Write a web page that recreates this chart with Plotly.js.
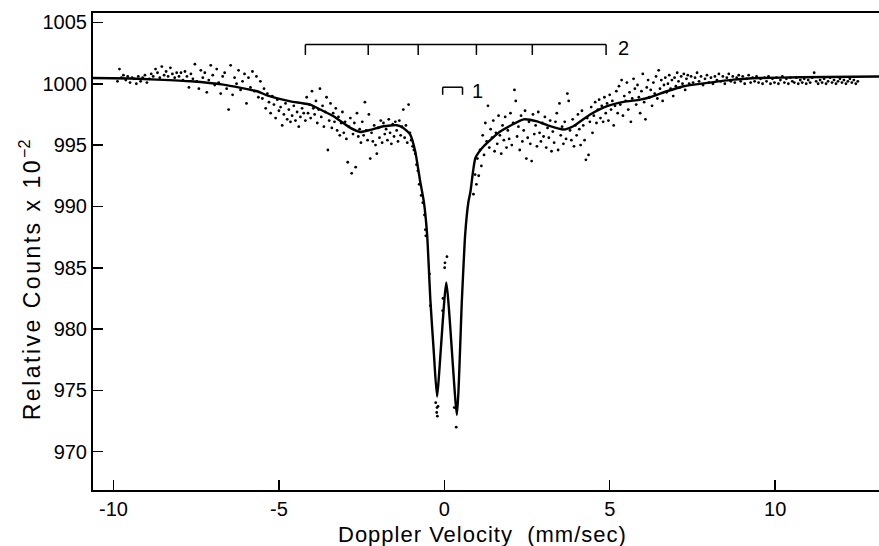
<!DOCTYPE html>
<html>
<head>
<meta charset="utf-8">
<script src="https://cdn.plot.ly/plotly-3.0.1.min.js"></script>
<style>html,body{margin:0;padding:0;background:#fff;}#chart{width:879px;height:546px;}</style>
</head>
<body>
<div id="chart"></div>
<script>
// ---- measured points (Doppler velocity mm/sec, relative counts x 10^-2) ----
const dotsXA = [-9.88,-9.82,-9.76,-9.7,-9.63,-9.57,-9.5,-9.44,-9.38,-9.31,-9.25,-9.18,-9.12,-9.05,-8.99,-8.92,-8.86,-8.8,-8.73,-8.67,-8.6,-8.54,-8.47,-8.41,-8.35,-8.28,-8.22,-8.15,-8.09,-8.02];
const dotsYA = [1000.2,1001.2,1000.5,1000.7,1000.3,1000.6,1000.1,1000.5,1000.4,1000.0,1000.6,1000.2,1000.5,1000.7,1000.1,1000.4,1000.8,1000.6,1001.2,1000.9,1000.5,1001.4,1000.7,1001.0,1000.6,1001.3,1000.8,1000.5,1000.9,1000.6];

const dotsXB = [-7.96,-7.9,-7.84,-7.78,-7.72,-7.66,-7.6,-7.54,-7.48,-7.42,-7.36,-7.3,-7.24,-7.18,-7.12,-7.06,-7.0,-6.94,-6.88,-6.82,-6.76,-6.7,-6.64,-6.58,-6.52,-6.46,-6.4,-6.34,-6.28,-6.22,-6.16,-6.1,-6.04,-5.98,-5.92,-5.86,-5.8,-5.74,-5.68,-5.62,-5.56];
const dotsYB = [1000.9,1000.3,1001.0,1000.6,999.7,1000.8,1000.4,1001.6,1000.2,999.6,1001.1,1000.5,1000.9,999.3,1000.3,1001.5,1000.7,999.9,1001.2,1000.1,999.2,1000.6,1000.9,999.6,997.9,1001.5,999.1,1000.5,1000.0,1001.1,999.5,1000.2,1000.8,998.4,1000.5,999.7,1001.0,999.4,1000.6,998.9,1000.2];

const dotsXC = [-5.5,-5.45,-5.4,-5.35,-5.3,-5.25,-5.2,-5.15,-5.1,-5.05,-5.0,-4.95,-4.9,-4.85,-4.8,-4.75,-4.7,-4.65,-4.6,-4.55,-4.5,-4.45,-4.4,-4.35,-4.3,-4.25,-4.2];
const dotsYC = [998.8,999.6,998.0,999.2,998.5,997.6,999.0,998.3,997.2,998.7,997.8,998.1,996.6,997.5,998.4,997.1,997.9,996.9,997.4,998.2,997.0,997.7,996.5,997.3,998.0,997.6,997.0];

const dotsXD = [-4.16,-4.12,-4.08,-4.04,-4.0,-3.96,-3.92,-3.88,-3.84,-3.8,
-3.76,-3.72,-3.68,-3.64,-3.6,-3.56,-3.52,-3.48,-3.44,-3.4,
-3.36,-3.32,-3.28,-3.24,-3.2,-3.16,-3.12,-3.08,-3.04,-3.0,
-2.96,-2.92,-2.88,-2.84,-2.8,-2.76,-2.72,-2.68,-2.64,-2.6,
-2.56,-2.52,-2.48,-2.44,-2.4,-2.36,-2.32,-2.28,-2.24,-2.2,
-2.16,-2.12,-2.08,-2.04,-2.0,-1.96,-1.92,-1.88,-1.84,-1.8,
-1.76,-1.72,-1.68,-1.64,-1.6,-1.56,-1.52,-1.48,-1.44,-1.4,
-1.36,-1.32,-1.28,-1.24,-1.2,-1.16,-1.12,-1.08,-1.04,-1.0,
-0.96,-0.92,-0.88,-0.84];
const dotsYD = [998.9,997.6,998.3,997.2,999.4,998.0,997.5,998.6,996.8,997.9,
999.6,997.3,998.2,996.5,997.7,998.9,994.6,997.0,998.4,996.4,
997.6,996.9,998.0,996.2,997.3,995.8,996.8,997.7,996.0,996.9,
995.5,993.6,996.5,997.2,992.7,995.9,996.8,993.2,997.6,995.7,
996.3,995.2,996.9,995.8,998.5,996.2,995.4,997.5,993.9,996.0,
995.3,996.6,995.0,994.3,996.4,995.6,997.0,995.2,996.8,995.9,
996.3,995.4,997.1,996.0,995.1,996.7,995.7,996.9,996.2,995.3,
997.0,995.8,996.5,997.9,995.6,996.6,995.2,998.3,996.0,995.4,
994.9,994.6,994.3,993.4];

const dotsXCentre = [-0.8,-0.76,-0.7,-0.65,-0.6,-0.57,-0.56,-0.45,-0.42,-0.26,-0.22,-0.23,-0.21,-0.19,-0.05,-0.04,0.01,0.02,0.08,0.3,0.37,0.36,0.88,0.93,0.97,1.0,1.04];
const dotsYCentre = [992.9,991.8,990.9,990.3,989.3,988.1,987.6,984.5,981.9,974.0,973.6,973.2,972.9,973.7,981.5,982.5,985.0,985.4,985.9,973.6,974.0,972.0,991.0,992.6,991.8,993.9,992.5];

const dotsXE = [1.08,1.12,1.16,1.2,1.24,1.28,1.32,1.36,1.4,1.44,
1.48,1.52,1.56,1.6,1.64,1.68,1.72,1.76,1.8,1.84,
1.88,1.92,1.96,2.0,2.04,2.08,2.12,2.16,2.2,2.24,
2.28,2.32,2.36,2.4,2.44,2.48,2.52,2.56,2.6,2.64,
2.68,2.72,2.76,2.8,2.84,2.88,2.92,2.96,3.0,3.04,
3.08,3.12,3.16,3.2,3.24,3.28,3.32,3.36,3.4,3.44,
3.48,3.52,3.56,3.6,3.64,3.68,3.72,3.76,3.8,3.84,
3.88,3.92,3.96,4.0,4.04,4.08,4.12,4.16,4.2,4.24,
4.28,4.32,4.36,4.4,4.44,4.48];
const dotsYE = [994.6,993.3,995.8,994.2,996.8,995.3,998.2,994.8,996.3,995.6,
997.0,994.5,996.0,995.1,997.4,995.8,994.3,996.6,995.4,997.3,
994.8,996.2,995.5,997.6,995.0,996.8,999.5,998.6,995.7,996.5,
994.6,997.4,995.3,996.2,997.8,993.9,995.6,996.9,995.1,993.7,
997.5,995.9,996.6,994.9,997.7,996.0,995.3,996.8,995.7,997.3,
994.8,996.4,995.6,997.0,994.5,996.1,995.2,996.9,997.6,994.6,
998.4,995.8,996.5,995.1,996.9,995.5,999.2,998.6,996.2,995.4,
997.1,994.9,996.6,995.8,997.5,996.3,995.0,997.8,996.6,995.4,
993.8,997.2,994.2,996.9,998.1,996.0];

const dotsXF = [4.52,4.56,4.6,4.64,4.68,4.72,4.76,4.8,4.84,4.88,
4.92,4.96,5.0,5.04,5.08,5.12,5.16,5.2,5.24,5.28,
5.32,5.36,5.4,5.44,5.48,5.52,5.56,5.6,5.64,5.68,
5.72,5.76,5.8,5.84,5.88,5.92,5.96,6.0,6.04,6.08,
6.12,6.16,6.2,6.24,6.28,6.32,6.36,6.4,6.44,6.48,
6.52,6.56,6.6,6.64,6.68,6.72,6.76,6.8,6.84,6.88,
6.92,6.96,7.0,7.04,7.08,7.12,7.16,7.2,7.24,7.28,
7.32,7.36,7.4];
const dotsYF = [997.4,998.5,996.8,997.9,998.7,997.2,998.2,996.9,998.9,997.6,
998.4,997.0,999.1,997.9,998.6,996.6,998.2,999.4,997.6,999.8,
998.3,1000.3,997.4,999.0,998.6,1000.1,997.9,999.3,996.9,998.8,
1000.4,999.6,998.3,999.9,998.9,997.6,999.4,1000.8,998.5,997.1,
999.7,1000.3,998.9,999.5,998.2,1000.1,999.2,1000.6,998.8,1001.1,
999.6,1000.3,998.6,999.9,1000.5,999.3,1000.0,1000.7,999.6,1000.3,
999.0,1000.5,999.8,1000.9,1000.2,999.7,1000.6,1000.0,1000.8,999.5,
1000.4,1000.7,1000.0];

const dotsXG = [7.46,7.52,7.58,7.64,7.7,7.76,7.82,7.88,7.94,8.0,
8.06,8.12,8.18,8.24,8.3,8.36,8.42,8.48,8.54,8.6,
8.66,8.72,8.78,8.84,8.9,8.96,9.02,9.08,9.14,9.2,
9.26,9.32,9.38,9.44,9.5,9.56,9.62,9.68,9.74,9.8,
9.86,9.92,9.98,10.04,10.1,10.16,10.22,10.28,10.34,10.4,
10.46,10.52,10.58,10.64,10.7,10.76,10.82,10.88,10.94,11.0,
11.06,11.12,11.18,11.24,11.3,11.36,11.42,11.48,11.54,11.6,
11.66,11.72,11.78,11.84,11.9,11.96,12.02,12.08,12.14,12.2,
12.26,12.32,12.38,12.44,12.5];
const dotsYG = [1000.6,1000.1,1000.5,1000.9,1000.2,1000.6,999.9,1000.4,1000.7,1000.1,
1000.5,1000.0,1000.6,1000.3,1000.8,1000.2,1000.6,1000.0,1000.5,1000.8,
1000.2,1000.6,1000.1,1000.5,1000.7,1000.2,1000.6,1000.0,1000.4,1000.7,
1000.1,1000.5,1000.2,1000.6,1000.1,1000.4,1000.0,1000.5,1000.2,1000.6,
1000.0,1000.4,1000.1,1000.5,1000.0,1000.3,1000.6,1000.1,1000.4,1000.0,
1000.5,1000.2,1000.1,1000.5,1000.0,1000.3,1000.1,1000.4,1000.0,1000.3,
1000.1,1000.5,1000.9,1000.2,1000.0,1000.3,1000.1,1000.4,1000.0,1000.2,
1000.5,1000.1,1000.3,1000.0,1000.2,1000.4,1000.1,1000.3,1000.0,1000.2,
1000.4,1000.1,1000.3,1000.0,1000.2];

// ---- fitted curve ----
const fitX = [-10.62,-9.5,-8.69,-7.67,-6.68,-5.66,-5.36,-4.65,-4.35,-4.05,-3.75,-3.35,-2.84,-2.54,-2.24,-1.84,-1.43,-1.24,-1.03,-0.88,-0.73,-0.62,-0.52,-0.42,-0.32,-0.22,0.06,0.38,0.53,0.63,0.73,0.79,0.94,1.19,1.69,2.4,2.8,3.2,3.6,3.9,4.41,4.92,5.42,5.92,6.22,6.73,7.23,7.94,8.74,9.55,10.76,13.14];
const fitY = [1000.47,1000.43,1000.34,1000.2,999.93,999.39,999.06,998.57,998.44,998.3,997.9,997.35,996.4,996.07,996.24,996.54,996.62,996.4,995.86,994.5,992.05,990.4,987.7,982.3,978.2,974.5,983.8,973.0,982.3,987.7,990.4,991.2,993.95,994.9,996.1,997.1,996.94,996.54,996.27,996.54,997.49,998.17,998.52,998.71,998.9,999.39,999.8,1000.07,1000.34,1000.47,1000.53,1000.59];

// ---- site line positions (stick diagrams) ----
const site2Lines = [-4.2,-2.3,-0.79,0.97,2.66,4.89];
const site1Lines = [-0.05,0.55];
const siteLabels = ["1","2"];

const xTicks = [-10,-5,0,5,10];
const yTicks = [970,975,980,985,990,995,1000,1005];

// bracket levels (layout positions, in data units)
const bar2Top = 1003.2, bar2Bottom = 1002.35;
const bar1Top = 999.72, bar1Bottom = 999.1;

function bracket(pos, top, bottom){
  const xs = [Math.min(...pos), Math.max(...pos), null];
  const ys = [top, top, null];
  pos.forEach(p => { xs.push(p, p, null); ys.push(top, bottom, null); });
  return {xs, ys};
}
const b2 = bracket(site2Lines, bar2Top, bar2Bottom);
const b1 = bracket(site1Lines, bar1Top, bar1Bottom);

const dotsX = [].concat(dotsXA, dotsXB, dotsXC, dotsXD, dotsXCentre, dotsXE, dotsXF, dotsXG);
const dotsY = [].concat(dotsYA, dotsYB, dotsYC, dotsYD, dotsYCentre, dotsYE, dotsYF, dotsYG);

const FONT = "Liberation Sans, Arial, sans-serif";

const traces = [
  {x: dotsX, y: dotsY, mode: 'markers', type: 'scatter',
   marker: {color: '#000', size: 2.8}, hoverinfo: 'skip', showlegend: false},
  {x: fitX, y: fitY, mode: 'lines', type: 'scatter',
   line: {color: '#000', width: 2.4, shape: 'spline', smoothing: 0.5}, showlegend: false},
  {x: b2.xs, y: b2.ys, mode: 'lines', type: 'scatter',
   line: {color: '#000', width: 1.5}, connectgaps: false, showlegend: false},
  {x: b1.xs, y: b1.ys, mode: 'lines', type: 'scatter',
   line: {color: '#000', width: 1.5}, connectgaps: false, showlegend: false}
];

const layout = {
  width: 879, height: 546,
  margin: {l: 93, r: 0, t: 13, b: 56, pad: 0},
  paper_bgcolor: '#fff', plot_bgcolor: '#fff',
  font: {family: FONT, color: '#000', size: 20},
  showlegend: false,
  xaxis: {
    range: [-10.62, 13.14], tickvals: xTicks, ticktext: xTicks.map(String),
    ticks: 'inside', ticklen: 10, tickwidth: 1.5, tickcolor: '#000',
    showline: true, linewidth: 2, linecolor: '#000', mirror: true,
    showgrid: false, zeroline: false,
    tickfont: {family: FONT, size: 20, color: '#000'}
  },
  yaxis: {
    range: [966.88, 1005.77], tickvals: yTicks, ticktext: yTicks.map(String),
    ticks: 'inside', ticklen: 10, tickwidth: 1.5, tickcolor: '#000',
    showline: true, linewidth: 2, linecolor: '#000', mirror: false,
    showgrid: false, zeroline: false,
    tickfont: {family: FONT, size: 20, color: '#000'}
  },
  annotations: [
    {text: '<span style="letter-spacing:1px">Doppler Velocity\u00a0\u00a0(mm/sec)</span>', xref: 'paper', yref: 'paper',
     x: 0.496, y: -0.094, xanchor: 'center', yanchor: 'middle', showarrow: false,
     font: {family: FONT, size: 22, color: '#000'}},
    {text: '<span style="letter-spacing:2.5px">Relative Counts x 10</span><sup>\u22122</sup>', xref: 'paper', yref: 'paper',
     x: -0.08, y: 0.44, xanchor: 'center', yanchor: 'middle', textangle: -90, showarrow: false,
     font: {family: FONT, size: 23, color: '#000'}},
    {text: siteLabels[1], x: 5.18, y: 1002.95, xref: 'x', yref: 'y', xanchor: 'left', yanchor: 'middle',
     showarrow: false, font: {family: FONT, size: 20, color: '#000'}},
    {text: siteLabels[0], x: 0.78, y: 999.45, xref: 'x', yref: 'y', xanchor: 'left', yanchor: 'middle',
     showarrow: false, font: {family: FONT, size: 20, color: '#000'}}
  ]
};

Plotly.newPlot('chart', traces, layout, {displayModeBar: false, staticPlot: true});
</script>
</body>
</html>
